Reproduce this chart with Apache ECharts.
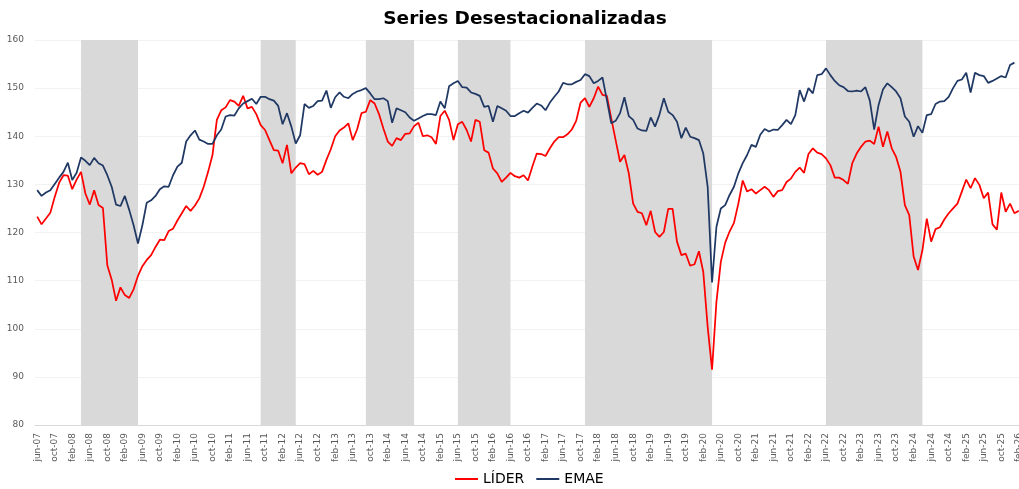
<!DOCTYPE html>
<html>
<head>
<meta charset="utf-8">
<script src="https://cdn.jsdelivr.net/npm/echarts@6/dist/echarts.min.js"></script>
<style>
html,body{margin:0;padding:0;background:#fff;}
#chart{width:1019px;height:489px;}
</style>
</head>
<body>
<div id="chart"></div>
<script>
// Monthly categories jun-07 .. feb-26
const monthNames = ['ene','feb','mar','abr','may','jun','jul','ago','sep','oct','nov','dic'];
const categories = [];
for (let y = 2007, m = 5; y < 2026 || (y === 2026 && m <= 1); ) {
  categories.push(monthNames[m] + '-' + String(y).slice(2));
  m++; if (m === 12) { m = 0; y++; }
}

const lider = [
123.3,121.7,122.9,124.1,127.4,130.3,131.9,131.8,129.0,131.0,
132.6,128.1,125.8,128.8,125.7,125.1,113.2,110.2,105.8,108.6,
107.0,106.4,108.2,111.0,113.0,114.3,115.3,117.0,118.5,118.4,
120.3,120.8,122.5,124.0,125.5,124.5,125.6,127.1,129.5,132.6,
136.1,143.4,145.4,146.0,147.5,147.2,146.3,148.4,145.8,146.1,
144.6,142.3,141.3,139.2,137.1,137.0,134.4,138.2,132.3,133.5,
134.4,134.2,132.1,132.8,132.0,132.6,135.1,137.3,140.0,141.2,
141.8,142.7,139.2,141.4,144.8,145.1,147.5,146.8,144.6,141.6,
138.9,138.0,139.6,139.2,140.5,140.6,142.1,142.8,140.0,140.2,
139.8,138.4,144.2,145.3,143.4,139.2,142.5,143.0,141.3,138.9,
143.4,143.0,137.1,136.6,133.3,132.3,130.5,131.4,132.4,131.7,
131.4,131.9,130.8,133.7,136.4,136.3,135.9,137.5,138.9,139.8,
139.8,140.4,141.4,143.2,147.0,147.9,146.1,147.9,150.3,148.6,
148.4,143.7,139.2,134.7,136.1,132.3,126.0,124.3,124.0,121.5,
124.5,120.1,119.1,120.1,124.9,124.9,118.1,115.3,115.6,113.1,
113.4,116.1,111.8,100.4,91.5,105.6,113.9,117.9,120.2,122.0,
126.0,130.8,128.5,129.0,128.1,128.8,129.5,128.8,127.4,128.6,
128.8,130.5,131.2,132.6,133.5,132.4,136.3,137.5,136.6,136.3,
135.4,134.0,131.4,131.4,130.9,130.1,134.4,136.4,137.8,138.9,
139.1,138.4,142.0,137.8,141.0,137.5,135.7,132.6,125.7,123.6,
115.0,112.2,116.3,122.9,118.1,120.7,121.1,122.7,124.0,125.0,
126.0,128.5,131.0,129.2,131.3,129.9,127.1,128.3,121.7,120.6,
128.3,124.3,126.0,124.0,124.5
];

const emae = [
128.8,127.6,128.3,128.8,130.1,131.4,132.6,134.5,130.9,132.4,
135.6,134.9,134.0,135.5,134.4,133.9,131.9,129.5,125.8,125.5,
127.6,124.7,121.5,117.7,121.5,126.2,126.7,127.6,129.0,129.6,
129.5,131.9,133.7,134.5,138.9,140.2,141.2,139.3,138.9,138.4,
138.4,140.2,141.4,144.1,144.4,144.3,145.8,146.8,147.3,147.8,
146.7,148.2,148.2,147.7,147.4,146.3,142.5,144.8,142.0,138.5,
140.2,146.7,145.9,146.3,147.3,147.4,149.5,145.9,148.1,149.1,
148.2,147.9,148.8,149.3,149.6,150.0,148.9,147.7,147.7,147.9,
147.3,142.8,145.8,145.4,145.0,143.9,143.2,143.7,144.2,144.6,
144.6,144.4,147.2,145.8,150.4,151.0,151.5,150.2,150.1,149.1,
148.8,148.4,146.1,146.3,143.0,146.3,145.8,145.3,144.2,144.2,
144.8,145.3,144.9,145.9,146.8,146.4,145.4,147.0,148.2,149.3,
151.1,150.8,150.8,151.3,151.7,152.9,152.5,151.0,151.5,152.2,
147.5,142.7,143.2,144.8,148.1,144.2,143.4,141.6,141.2,141.1,
143.9,142.0,144.5,147.9,145.1,144.4,143.0,139.6,141.8,139.9,
139.6,139.2,136.4,129.5,109.6,121.2,125.0,125.7,127.8,129.5,
132.3,134.4,136.1,138.2,137.8,140.3,141.5,141.0,141.4,141.3,
142.3,143.4,142.5,144.4,149.6,147.2,150.0,148.9,152.7,152.9,
154.1,152.7,151.5,150.6,150.2,149.4,149.3,149.5,149.3,150.2,
147.4,141.4,146.5,149.7,151.0,150.2,149.3,147.9,144.1,143.0,
139.9,142.1,140.7,144.4,144.6,146.7,147.2,147.3,148.2,150.0,
151.5,151.8,153.2,149.1,153.2,152.7,152.5,151.1,151.5,152.0,
152.5,152.2,154.8,155.3,null
];

// Shaded (recession) periods, first and last month
const recessions = [
  ['abr-08','may-09'],
  ['sep-11','may-12'],
  ['sep-13','ago-14'],
  ['jun-15','jun-16'],
  ['nov-17','abr-20'],
  ['jun-22','abr-24']
];

const yTicks = { min: 80, max: 160, interval: 10 };

const chart = echarts.init(document.getElementById('chart'), null, {renderer: 'canvas'});
const font = 'DejaVu Sans, Verdana, sans-serif';

chart.setOption({
  animation: false,
  backgroundColor: '#ffffff',
  title: {
    text: 'Series Desestacionalizadas',
    left: 520,
    textAlign: 'center',
    top: 5,
    textStyle: { fontFamily: font, fontSize: 18.5, fontWeight: 'bold', color: '#000000' }
  },
  legend: {
    left: 450,
    top: 467,
    itemWidth: 23,
    itemHeight: 2,
    itemGap: 12,
    icon: 'rect',
    textStyle: { fontFamily: font, fontSize: 14, color: '#000000' },
    data: ['LÍDER', 'EMAE']
  },
  grid: { left: 35, width: 986, top: 40, height: 385, containLabel: false, outerBoundsMode: 'none' },
  xAxis: {
    type: 'category',
    data: categories,
    boundaryGap: true,
    axisLine: { show: true, lineStyle: { color: '#D9D9D9', width: 1 } },
    axisTick: { show: false },
    axisLabel: {
      interval: 3,
      rotate: 90,
      margin: 8,
      color: '#595959',
      fontFamily: font,
      fontSize: 9
    },
    splitLine: { show: false }
  },
  yAxis: {
    type: 'value',
    min: yTicks.min,
    max: yTicks.max,
    interval: yTicks.interval,
    axisLine: { show: false },
    axisTick: { show: false },
    axisLabel: { color: '#595959', fontFamily: font, fontSize: 9, margin: 11 },
    splitLine: { lineStyle: { color: '#F2F2F2', width: 1 } }
  },
  series: [
    {
      name: 'LÍDER',
      type: 'line',
      data: lider,
      showSymbol: false,
      symbol: 'none',
      lineStyle: { color: '#FF0000', width: 1.75 },
      itemStyle: { color: '#FF0000' },
      z: 3,
      markArea: {
        silent: true,
        itemStyle: { color: '#D9D9D9', opacity: 1 },
        data: recessions.map(r => [{ xAxis: r[0] }, { xAxis: r[1] }])
      }
    },
    {
      name: 'EMAE',
      type: 'line',
      data: emae,
      showSymbol: false,
      symbol: 'none',
      lineStyle: { color: '#203864', width: 1.75 },
      itemStyle: { color: '#203864' },
      z: 4
    }
  ]
});
</script>
</body>
</html>
